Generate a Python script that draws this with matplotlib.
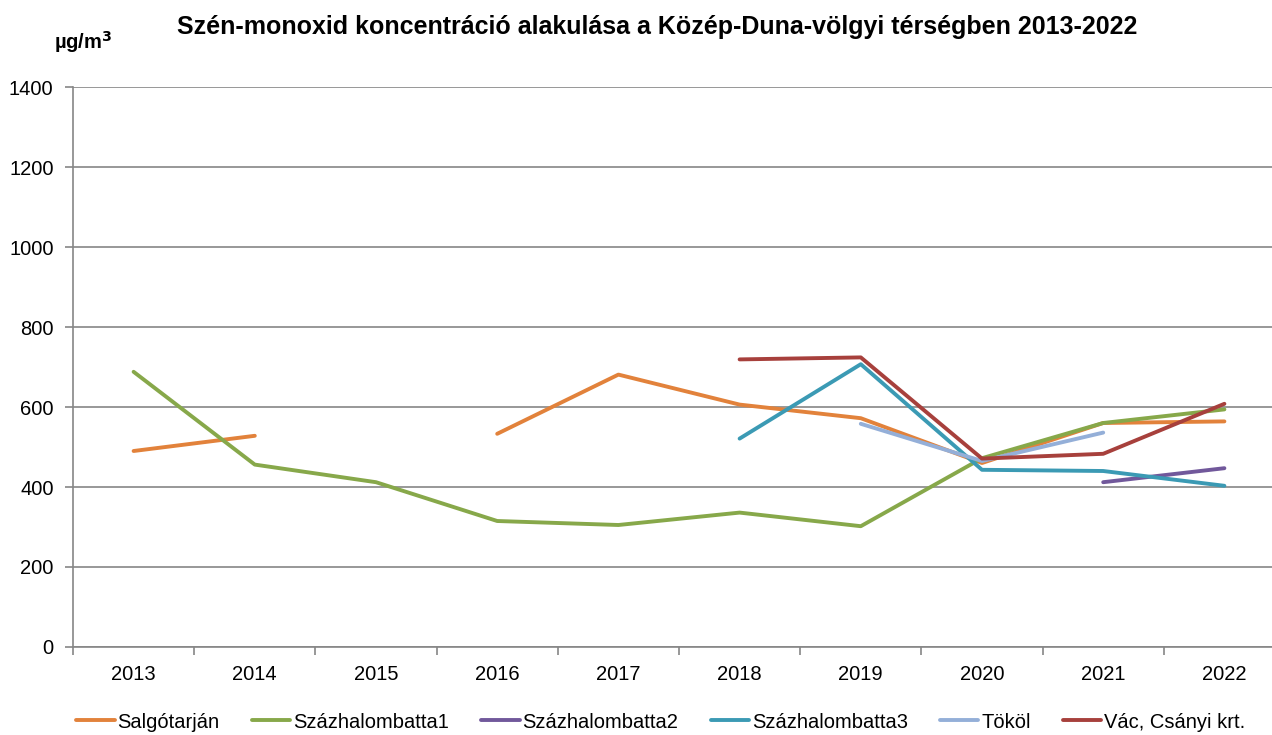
import numpy as np
import matplotlib
matplotlib.use("Agg")
import matplotlib.pyplot as plt

plt.rcParams['font.family'] = ['Liberation Sans', 'DejaVu Sans']

years = ["2013", "2014", "2015", "2016", "2017", "2018", "2019", "2020", "2021", "2022"]
nan = np.nan

salgotarjan = [490, 528, nan, 533, 681, 606, 572, 460, 560, 564]
szazhalombatta1 = [688, 456, 412, 315, 305, 336, 302, 472, 560, 594]
szazhalombatta2 = [nan, nan, nan, nan, nan, nan, nan, nan, 412, 447]
szazhalombatta3 = [nan, nan, nan, nan, nan, 521, 707, 443, 440, 403]
tokol = [nan, nan, nan, nan, nan, nan, 558, 465, 536, nan]
vac = [nan, nan, nan, nan, nan, 719, 724, 471, 483, 608]

names = ["Salgótarján", "Százhalombatta1", "Százhalombatta2",
         "Százhalombatta3", "Tököl", "Vác, Csányi krt."]
series = [salgotarjan, szazhalombatta1, szazhalombatta2, szazhalombatta3, tokol, vac]
colors = ["#E2823B", "#87A84A", "#71589B", "#3B9AB4", "#94AFD8", "#A7403C"]

W, H = 1272, 735
fig = plt.figure(figsize=(W / 100, H / 100), dpi=100)
# plot area runs a little past the right edge of the image
ax = fig.add_axes([73 / W, 1 - 647 / H, (1285 - 73) / W, (647 - 87) / H])

x = np.arange(len(years))
for vals, name, c in zip(series, names, colors):
    ax.plot(x, vals, color=c, lw=2.8, label=name, solid_capstyle='round')

ax.set_xlim(-0.5, 9.5)
ax.set_ylim(0, 1400)
ax.set_yticks(np.arange(0, 1401, 200))
ax.yaxis.grid(True, color="#868686", lw=1.2)
ax.set_axisbelow(True)

ax.set_xticks(x)
ax.set_xticklabels(years)
ax.set_xticks(np.arange(-0.5, 10, 1), minor=True)
ax.tick_params(axis='x', which='major', length=0, pad=13, labelsize=14.5)
ax.tick_params(axis='x', which='minor', length=6, color="#868686", width=1.2)
ax.tick_params(axis='y', length=6, color="#868686", width=1.2, pad=8, labelsize=14.5)

for s in ["top", "right"]:
    ax.spines[s].set_visible(False)
for s in ["left", "bottom"]:
    ax.spines[s].set_color("#868686")
    ax.spines[s].set_linewidth(1.2)

fig.text(657 / W, 1 - 27 / H, "Szén-monoxid koncentráció alakulása a Közép-Duna-völgyi térségben 2013-2022",
         ha="center", va="center", fontsize=18, fontweight="bold")
fig.text(54 / W, 1 - 42 / H, "µg/m$^\\mathbf{3}$", ha="left", va="center", fontsize=14.5, fontweight="bold")

leg = fig.legend(loc="center", bbox_to_anchor=(661 / W, 1 - 722 / H), ncol=6, frameon=False,
                 fontsize=14.5, handlelength=1.9, handletextpad=0.15, columnspacing=1.6,
                 borderaxespad=0)

fig.savefig("out.png", dpi=100)
